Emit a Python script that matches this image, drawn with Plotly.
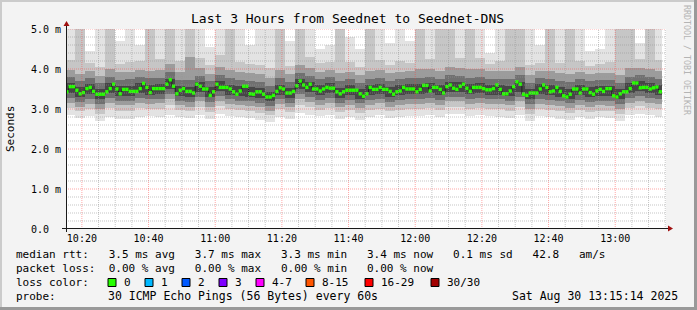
import plotly.graph_objects as go
import pandas as pd

# ---------------- data ----------------
median_ms = [3.43,3.56,3.56,3.47,3.38,3.41,3.51,3.54,3.44,3.37,
             3.37,3.37,3.43,3.51,3.62,3.50,3.38,3.49,3.49,3.44,
             3.44,3.44,3.51,3.64,3.54,3.41,3.51,3.51,3.51,3.51,
             3.62,3.73,3.57,3.38,3.47,3.51,3.44,3.44,3.40,3.62,
             3.57,3.50,3.50,3.34,3.43,3.62,3.54,3.54,3.54,3.50,
             3.43,3.37,3.45,3.57,3.57,3.38,3.37,3.43,3.43,3.37,
             3.30,3.30,3.34,3.44,3.53,3.50,3.40,3.40,3.44,3.58,
             3.70,3.60,3.54,3.62,3.50,3.50,3.45,3.50,3.54,3.52,
             3.52,3.43,3.38,3.43,3.47,3.47,3.47,3.47,3.38,3.32,
             3.38,3.54,3.49,3.49,3.54,3.49,3.49,3.44,3.37,3.43,
             3.45,3.54,3.50,3.50,3.50,3.43,3.49,3.59,3.59,3.45,
             3.54,3.54,3.49,3.40,3.56,3.60,3.52,3.49,3.57,3.62,
             3.52,3.44,3.54,3.54,3.54,3.51,3.48,3.48,3.51,3.60,
             3.49,3.38,3.38,3.45,3.56,3.68,3.62,3.37,3.34,3.40,
             3.40,3.40,3.50,3.60,3.54,3.43,3.45,3.54,3.44,3.33,
             3.30,3.37,3.50,3.50,3.40,3.50,3.50,3.41,3.37,3.45,
             3.49,3.44,3.51,3.51,3.33,3.30,3.38,3.43,3.43,3.51,
             3.65,3.65,3.53,3.54,3.54,3.50,3.53,3.55,3.43]

# smoke bands per 3-minute column (ms): lower / upper edges, outer -> inner
smoke_lo1 = [2.85,2.78,2.82,2.70,2.80,2.76,2.74,2.80,2.83,2.79,
             2.86,2.80,2.78,2.85,2.76,2.88,2.82,2.80,2.78,2.72,
             2.68,2.80,2.76,2.90,2.85,2.82,2.84,2.75,2.79,2.72,
             2.80,2.84,2.77,2.80,2.83,2.82,2.86,2.80,2.87,2.88,
             2.82,2.85,2.82,2.80,2.78,2.86,2.70,2.82,2.80,2.76,
             2.72,2.80,2.76,2.79,2.78,2.70,2.85,2.88,2.84,2.80]
smoke_lo2 = [3.03,2.95,3.00,2.88,3.02,2.96,2.95,3.02,3.00,3.00,
             3.10,2.97,2.94,3.05,2.93,3.07,3.00,2.97,2.94,2.91,
             2.84,2.99,2.92,3.10,3.05,2.98,3.02,2.92,2.97,2.89,
             2.97,3.01,2.94,2.97,3.00,3.00,3.03,2.98,3.06,3.06,
             3.00,3.03,2.99,2.99,2.96,3.06,2.88,3.00,2.97,2.94,
             2.89,2.97,2.93,2.96,2.95,2.87,3.03,3.07,3.02,2.99]
smoke_lo3 = [3.15,3.06,3.13,3.01,3.15,3.09,3.09,3.16,3.12,3.14,
             3.25,3.09,3.06,3.19,3.05,3.20,3.12,3.09,3.07,3.04,
             2.95,3.12,3.04,3.24,3.18,3.11,3.16,3.04,3.10,3.02,
             3.10,3.14,3.06,3.10,3.13,3.13,3.16,3.11,3.19,3.19,
             3.13,3.16,3.12,3.12,3.09,3.19,3.01,3.13,3.10,3.07,
             3.02,3.10,3.06,3.09,3.08,3.00,3.16,3.20,3.15,3.12]
smoke_lo4 = [3.27,3.18,3.25,3.13,3.27,3.21,3.21,3.28,3.24,3.26,
             3.38,3.20,3.18,3.31,3.17,3.32,3.24,3.21,3.19,3.16,
             3.07,3.24,3.16,3.37,3.30,3.23,3.28,3.16,3.22,3.14,
             3.22,3.26,3.18,3.22,3.25,3.25,3.28,3.23,3.31,3.31,
             3.25,3.28,3.24,3.24,3.21,3.31,3.13,3.25,3.22,3.19,
             3.14,3.22,3.18,3.21,3.20,3.12,3.28,3.32,3.27,3.24]
smoke_lo5 = [3.39,3.30,3.37,3.25,3.39,3.33,3.33,3.40,3.36,3.38,
             3.51,3.32,3.30,3.43,3.29,3.44,3.36,3.33,3.31,3.28,
             3.19,3.36,3.28,3.50,3.42,3.35,3.40,3.28,3.34,3.26,
             3.34,3.38,3.30,3.34,3.37,3.37,3.40,3.35,3.43,3.43,
             3.37,3.40,3.36,3.36,3.33,3.43,3.25,3.37,3.34,3.31,
             3.26,3.34,3.30,3.33,3.32,3.24,3.40,3.44,3.39,3.36]
smoke_hi5 = [3.64,3.55,3.62,3.49,3.64,3.58,3.58,3.65,3.61,3.63,
             3.76,3.57,3.55,3.68,3.54,3.69,3.61,3.58,3.56,3.53,
             3.43,3.61,3.53,3.75,3.67,3.60,3.65,3.53,3.59,3.51,
             3.59,3.63,3.55,3.59,3.62,3.62,3.65,3.60,3.68,3.68,
             3.62,3.65,3.61,3.61,3.58,3.68,3.50,3.62,3.59,3.56,
             3.51,3.59,3.55,3.58,3.57,3.49,3.65,3.69,3.64,3.61]
smoke_hi4 = [3.79,3.70,3.77,3.64,3.80,3.73,3.74,3.80,3.77,3.78,
             3.92,3.72,3.72,3.83,3.69,3.85,3.77,3.73,3.71,3.68,
             3.58,3.77,3.68,3.91,3.83,3.75,3.80,3.69,3.74,3.66,
             3.75,3.78,3.70,3.74,3.77,3.78,3.80,3.76,3.84,3.83,
             3.78,3.80,3.76,3.76,3.74,3.84,3.65,3.77,3.75,3.71,
             3.67,3.74,3.70,3.73,3.72,3.65,3.81,3.84,3.80,3.76]
smoke_hi3 = [3.97,3.88,3.95,3.82,4.00,3.92,3.93,3.98,3.96,3.97,
             4.12,3.92,4.30,4.02,3.88,4.05,3.98,3.92,3.90,3.87,
             3.78,3.98,3.87,4.10,4.02,3.93,3.98,3.90,3.93,3.85,
             3.96,3.97,3.89,3.93,3.96,4.00,3.99,3.96,4.05,4.02,
             3.99,3.99,3.94,3.95,3.95,4.04,3.84,3.95,3.96,3.90,
             3.88,3.93,3.88,3.91,3.91,3.86,4.02,4.02,4.01,3.95]
smoke_hi2 = [4.22,5.2,4.15,4.05,5.2,4.12,4.18,4.20,5.2,4.25,
             5.2,4.20,5.2,4.28,4.10,4.35,5.2,4.18,4.12,4.10,
             4.02,5.2,4.08,5.2,4.30,4.15,4.18,5.2,4.18,4.05,
             5.2,4.22,4.10,4.20,4.15,5.2,4.25,5.2,5.2,4.28,
             5.2,4.28,4.12,4.20,5.2,5.2,4.10,4.15,5.2,4.15,
             5.2,4.20,4.08,4.12,4.18,5.2,5.2,4.25,5.2,4.22]
smoke_hi1 = [5.2,5.2,4.45,5.2,5.2,4.70,5.2,4.60,5.2,5.2,
             5.2,5.2,5.2,5.2,4.55,5.2,5.2,5.2,4.60,5.2,
             5.2,5.2,4.70,5.2,5.2,4.50,4.60,5.2,4.80,4.50,
             5.2,5.2,4.65,5.2,4.70,5.2,5.2,5.2,5.2,5.2,
             5.2,5.2,4.40,5.2,5.2,5.2,5.2,4.60,5.2,5.2,
             5.2,5.2,4.45,4.50,5.2,5.2,5.2,4.65,5.2,5.2]

y_tick_vals = [0, 1, 2, 3, 4, 5]
y_tick_text = ["0.0\u00a0\u00a0", "1.0 m", "2.0 m", "3.0 m", "4.0 m", "5.0 m"]

title_text = "Last 3 Hours from Seednet to Seednet-DNS"
stats_rtt = ["3.5 ms avg", "3.7 ms max", "3.3 ms min", "3.4 ms now", "0.1 ms sd", "42.8", "am/s"]
stats_loss = ["0.00 % avg", "0.00 % max", "0.00 % min", "0.00 % now"]
loss_labels = ["0", "1", "2", "3", "4-7", "8-15", "16-29", "30/30"]
loss_colors = ["#26ff00", "#00b8ff", "#0059ff", "#7e00ff", "#ff00ff", "#ff5500", "#ff0000", "#a10000"]
probe_text = "30 ICMP Echo Pings (56 Bytes) every 60s"
date_text = "Sat Aug 30 13:15:14 2025"

# ---------------- geometry ----------------
W, H = 697, 310
L, T, PW, PH = 66, 29, 600, 200
R, B = W - L - PW, H - T - PH
FONT = "DejaVu Sans Mono"

def px(xp):
    return (xp - L) / PW

def py(yp):
    return (T + PH - yp) / PH

t0 = pd.Timestamp("2025-08-30 10:15:14")
t1 = pd.Timestamp("2025-08-30 13:15:14")
n = len(median_ms)
min_starts = pd.date_range("2025-08-30 10:15:00", periods=n, freq="1min")
data_end = min_starts[-1] + pd.Timedelta(minutes=1)

ncol = len(smoke_lo1)
col_starts = pd.date_range("2025-08-30 10:15:00", periods=ncol, freq="3min")
col_ends = [min(s + pd.Timedelta(minutes=3), data_end) for s in col_starts]
col_centers = [s + (e - s) / 2 for s, e in zip(col_starts, col_ends)]
col_widths = [(e - s).total_seconds() * 1000 for s, e in zip(col_starts, col_ends)]

fig = go.Figure()

bands = [
    (smoke_lo1, smoke_hi1, "#e3e3e3"),
    (smoke_lo2, smoke_hi2, "#c6c6c6"),
    (smoke_lo3, smoke_hi3, "#9c9c9c"),
    (smoke_lo4, smoke_hi4, "#707070"),
    (smoke_lo5, smoke_hi5, "#464646"),
]
for lo, hi, c in bands:
    fig.add_trace(go.Bar(
        x=col_centers, base=lo, y=[h - l for l, h in zip(lo, hi)],
        width=col_widths, marker=dict(color=c, line=dict(width=0)),
        hoverinfo="skip", showlegend=False))

# thin dark median connector
fig.add_trace(go.Scatter(
    x=list(min_starts) + [data_end], y=median_ms + [median_ms[-1]],
    mode="lines", line=dict(color="#202020", width=1, shape="hv"),
    hoverinfo="skip", showlegend=False))

# loss-coloured median blocks (0 loss -> green)
gx, gy = [], []
for s, m in zip(min_starts, median_ms):
    gx += [s, s + pd.Timedelta(minutes=1), None]
    gy += [m, m, None]
fig.add_trace(go.Scatter(
    x=gx, y=gy, mode="lines", line=dict(color=loss_colors[0], width=3.4),
    hoverinfo="skip", showlegend=False))

shapes = []
# grid on top of smoke
grid_minor = "rgba(150,150,150,0.55)"
grid_major = "rgba(255,60,60,0.45)"
t = pd.Timestamp("2025-08-30 10:20:00")
while t <= t1:
    major = (t.minute % 20 == 0)
    shapes.append(dict(type="line", xref="x", yref="paper", x0=t, x1=t, y0=0, y1=1,
                       line=dict(color=grid_major if major else grid_minor, width=1, dash="1px,1px"),
                       layer="above"))
    t += pd.Timedelta(minutes=5)
for i in range(1, 26):
    v = i * 0.2
    major = (i % 5 == 0)
    shapes.append(dict(type="line", xref="paper", yref="y", x0=0, x1=1, y0=v, y1=v,
                       line=dict(color=grid_major if major else grid_minor, width=1, dash="1px,1px"),
                       layer="above"))

axis_col = "#1a1a1a"
arrow_col = "#a01010"
shapes.append(dict(type="line", xref="paper", yref="paper", x0=px(62), x1=px(669), y0=py(228.5), y1=py(228.5),
                   line=dict(color=axis_col, width=1), layer="above"))
shapes.append(dict(type="line", xref="paper", yref="paper", x0=px(66.5), x1=px(66.5), y0=py(232), y1=py(24),
                   line=dict(color=axis_col, width=1), layer="above"))
shapes.append(dict(type="path", xref="paper", yref="paper",
                   path=f"M {px(668)} {py(225.5)} L {px(673)} {py(228.5)} L {px(668)} {py(231.5)} Z",
                   fillcolor=arrow_col, line=dict(color=arrow_col, width=0), layer="above"))
shapes.append(dict(type="path", xref="paper", yref="paper",
                   path=f"M {px(63.5)} {py(26)} L {px(66.5)} {py(21)} L {px(69.5)} {py(26)} Z",
                   fillcolor=arrow_col, line=dict(color=arrow_col, width=0), layer="above"))

# outer frame
shapes += [
    dict(type="rect", xref="paper", yref="paper", x0=px(0), x1=px(W), y0=py(0), y1=py(2),
         fillcolor="#cbcbcb", line=dict(width=0)),
    dict(type="rect", xref="paper", yref="paper", x0=px(0), x1=px(2), y0=py(0), y1=py(H),
         fillcolor="#cbcbcb", line=dict(width=0)),
    dict(type="rect", xref="paper", yref="paper", x0=px(W - 3), x1=px(W), y0=py(0), y1=py(H),
         fillcolor="#999999", line=dict(width=0)),
    dict(type="rect", xref="paper", yref="paper", x0=px(0), x1=px(W), y0=py(H - 3), y1=py(H),
         fillcolor="#999999", line=dict(width=0)),
]

ann = []
def text(xp, yp, s, size=11, anchor="left", color="#000000", angle=0, yanchor="middle"):
    ann.append(dict(xref="paper", yref="paper", x=px(xp), y=py(yp), text=s.replace(" ", "\u00a0"),
                    showarrow=False, xanchor=anchor, yanchor=yanchor, textangle=angle,
                    font=dict(family=FONT, size=size, color=color)))

text(347.5, 19, title_text, size=13, anchor="center")
text(10, 129, "Seconds", size=11, anchor="center", angle=-90)
text(687, 60, "RRDTOOL / TOBI OETIKER", size=8.3, anchor="center", color="#b4b4b4", angle=90)

line1 = "median rtt:   " + "   ".join(stats_rtt)
line2 = "packet loss:  " + "   ".join(stats_loss)
text(14, 254, line1)
text(14, 268, line2)
text(14, 282, "loss color:")
box_x = [108, 145, 182, 219, 256, 306, 365, 431]
for bx, lab, c in zip(box_x, loss_labels, loss_colors):
    shapes.append(dict(type="rect", xref="paper", yref="paper", x0=px(bx), x1=px(bx + 8),
                       y0=py(286.5), y1=py(278.5), fillcolor=c, line=dict(color="#000000", width=1)))
    text(bx + 14, 282, lab)
text(14, 296, "probe:")
text(106, 296, probe_text, size=11.5)
text(680, 296, date_text, size=11.5, anchor="right")

fig.update_layout(
    width=W, height=H, autosize=False,
    margin=dict(l=L, r=R, t=T, b=B, pad=0),
    paper_bgcolor="#f3f3f3", plot_bgcolor="#ffffff",
    barmode="overlay", bargap=0, showlegend=False,
    shapes=shapes, annotations=ann,
    xaxis=dict(type="date", range=[t0, t1], showgrid=False, zeroline=False, showline=False,
               tickmode="array",
               tickvals=list(pd.date_range("2025-08-30 10:20:00", "2025-08-30 13:00:00", freq="20min")),
               tickformat="%H:%M", ticks="", ticklabelstandoff=2,
               tickfont=dict(family=FONT, size=10, color="#000000"), automargin=False, fixedrange=True),
    yaxis=dict(range=[0, 5], showgrid=False, zeroline=False, showline=False,
               tickmode="array", tickvals=y_tick_vals, ticktext=y_tick_text, ticks="",
               ticklabelstandoff=4,
               tickfont=dict(family=FONT, size=10, color="#000000"), automargin=False, fixedrange=True),
)

fig.write_html("out.html", config={"displayModeBar": False, "staticPlot": True})
